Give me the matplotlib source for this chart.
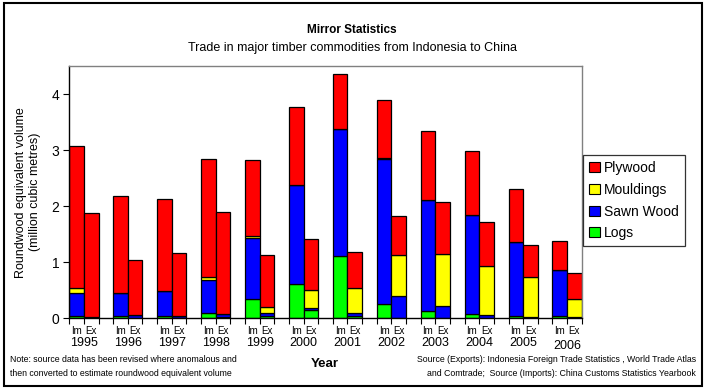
import matplotlib
matplotlib.use("Agg")
import matplotlib.pyplot as plt
from matplotlib.patches import Patch, Rectangle
import numpy as np

plt.rcParams['font.family'] = ['Liberation Sans', 'DejaVu Sans']

years = ['1995', '1996', '1997', '1998', '1999', '2000', '2001', '2002', '2003', '2004', '2005', '2006']

# Imports (China Customs)
logs_im = [0.04, 0.04, 0.04, 0.09, 0.34, 0.61, 1.12, 0.25, 0.125, 0.08, 0.05, 0.035]
sawn_im = [0.41, 0.41, 0.44, 0.59, 1.10, 1.765, 2.25, 2.595, 1.98, 1.76, 1.31, 0.82]
mould_im = [0.09, 0.01, 0.01, 0.05, 0.03, 0.005, 0.01, 0.01, 0.005, 0.005, 0.01, 0.005]
ply_im = [2.53, 1.72, 1.64, 2.11, 1.35, 1.39, 0.98, 1.035, 1.23, 1.135, 0.93, 0.515]

# Exports (Indonesia)
logs_ex = [0.005, 0.01, 0.005, 0.03, 0.05, 0.14, 0.035, 0.005, 0.0, 0.0, 0.005, 0.005]
sawn_ex = [0.01, 0.05, 0.035, 0.04, 0.045, 0.045, 0.055, 0.385, 0.215, 0.054, 0.015, 0.01]
mould_ex = [0.0, 0.0, 0.0, 0.0, 0.105, 0.32, 0.445, 0.735, 0.928, 0.876, 0.71, 0.325]
ply_ex = [1.86, 0.975, 1.125, 1.82, 0.925, 0.905, 0.645, 0.695, 0.927, 0.784, 0.57, 0.46]

series_names = ['Logs', 'Sawn Wood', 'Mouldings', 'Plywood']
colors = ['#00FF00', '#0000FF', '#FFFF00', '#FF0000']

fig = plt.figure(figsize=(7.04, 3.89), dpi=100)
ax = fig.add_axes([0.0984, 0.1817, 0.7279, 0.6486])

n = len(years)
x_im = np.arange(n) * 3
x_ex = x_im + 1

im_stack = [logs_im, sawn_im, mould_im, ply_im]
ex_stack = [logs_ex, sawn_ex, mould_ex, ply_ex]

for xs, stack in ((x_im, im_stack), (x_ex, ex_stack)):
    bottom = np.zeros(n)
    for vals, c in zip(stack, colors):
        v = np.array(vals)
        ax.bar(xs, v, bottom=bottom, width=1.0, color=c, edgecolor='black', linewidth=0.9)
        bottom = bottom + v

ax.set_xlim(-0.5, 3 * n - 1.5)
ax.set_ylim(0, 4.5)
ax.set_yticks([0, 1, 2, 3, 4])
ax.tick_params(axis='y', labelsize=10, length=4, width=0.8, direction='out', pad=3)
ax.set_xticks(np.arange(-0.5, 3 * n - 1, 1.0))
ax.set_xticklabels([])
ax.tick_params(axis='x', length=4, width=0.8, direction='out')

for s in ('top', 'right'):
    ax.spines[s].set_color('#808080')
    ax.spines[s].set_linewidth(1.0)
for s in ('left', 'bottom'):
    ax.spines[s].set_color('black')
    ax.spines[s].set_linewidth(1.0)

for i, y in enumerate(years):
    for xx, lab in ((x_im[i], 'Im'), (x_ex[i], 'Ex')):
        ax.annotate(lab, xy=(xx, 0), xycoords=('data', 'axes fraction'),
                    xytext=(0, -13 * 0.72), textcoords='offset points',
                    ha='center', va='center', fontsize=7)
    ypx = 25 if y != '2006' else 28
    ax.annotate(y, xy=(x_im[i] + 0.5, 0), xycoords=('data', 'axes fraction'),
                xytext=(0, -ypx * 0.72), textcoords='offset points',
                ha='center', va='center', fontsize=9)

ax.set_ylabel('Roundwood equivalent volume\n(million cubic metres)', fontsize=9, labelpad=8)

fig.text(352 / 704, 1 - 30 / 389, 'Mirror Statistics', ha='center', va='center', fontsize=8.5, fontweight='bold')
fig.text(352 / 704, 1 - 48 / 389, 'Trade in major timber commodities from Indonesia to China',
         ha='center', va='center', fontsize=9)

fig.text(325 / 704, 1 - 364 / 389, 'Year', ha='center', va='center', fontsize=9.5, fontweight='bold')
fig.text(10 / 704, 1 - 359 / 389, 'Note: source data has been revised where anomalous and',
         ha='left', va='center', fontsize=6.3)
fig.text(10 / 704, 1 - 374 / 389, 'then converted to estimate roundwood equivalent volume',
         ha='left', va='center', fontsize=6.3)
fig.text(696 / 704, 1 - 359 / 389, 'Source (Exports): Indonesia Foreign Trade Statistics , World Trade Atlas',
         ha='right', va='center', fontsize=6.3)
fig.text(696 / 704, 1 - 374 / 389, 'and Comtrade;  Source (Imports): China Customs Statistics Yearbook',
         ha='right', va='center', fontsize=6.3)

handles = [Patch(facecolor=c, edgecolor='black', linewidth=0.8) for c in colors[::-1]]
leg = fig.legend(handles, series_names[::-1], loc='upper left',
                 bbox_to_anchor=(583 / 704, 1 - 155 / 389),
                 fontsize=10, frameon=True, fancybox=False, edgecolor='black',
                 handlelength=0.75, handleheight=0.75, handletextpad=0.3,
                 labelspacing=0.55, borderpad=0.45, borderaxespad=0.0)
leg.get_frame().set_linewidth(0.9)

# outer chart border
fig.patches.append(Rectangle((4 / 704, 3 / 389), 698 / 704, 383 / 389, transform=fig.transFigure,
                             fill=False, edgecolor='black', linewidth=1.5))

fig.savefig('out.png', dpi=100)
